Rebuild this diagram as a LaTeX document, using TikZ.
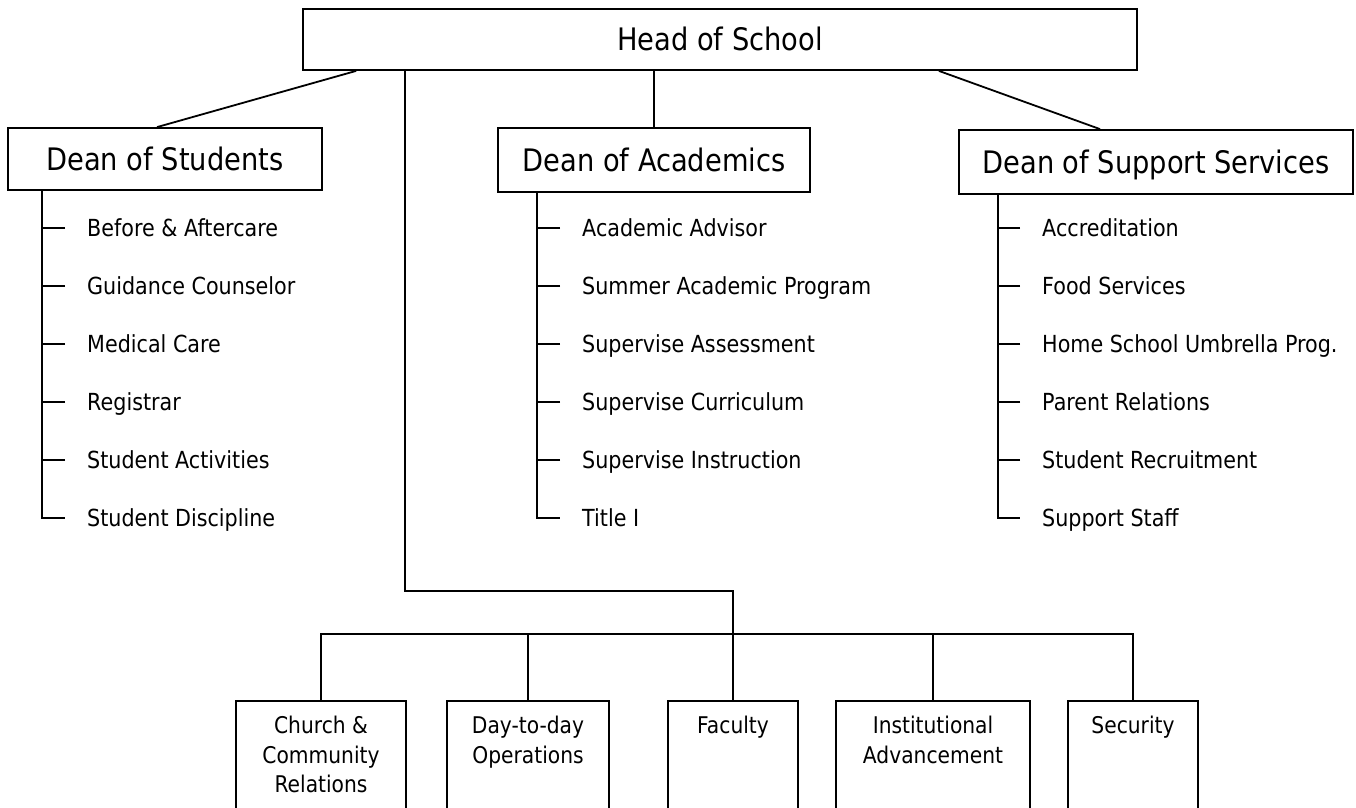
\documentclass[tikz,border=0pt]{standalone}
\usepackage{fontspec}
\setmainfont{DejaVu Sans}[FakeStretch=0.88]
\usepackage{tikz}
\usetikzlibrary{calc,positioning}
\tikzset{
    x=1pt,y=-1pt,
    link/.style = {line width=1.8pt},
    head/.style ={rectangle, draw, line width=1.8pt, inner sep=0pt, text height=22pt, text depth=0pt, font=\fontsize{31}{37}\selectfont},
    item/.style = {anchor=west, inner xsep=22pt, inner ysep=0pt, text height=17pt, text depth=0pt, font=\fontsize{23.5}{28}\selectfont},
    unit/.style = {rectangle, draw, line width=1.8pt, anchor=north, minimum height=130pt},
    tag/.style = {align=center, inner sep=0pt, font=\fontsize{23}{29.5}\selectfont}
}

\begin{document}
\begin{tikzpicture}
    \useasboundingbox (0,0) rectangle (1356,807);
    \clip (0,0) rectangle (1356,807);

    % top level
    \node[head, minimum width=834pt, minimum height=61pt] (hos) at (720,39.5) {Head of School};
    \node[head, minimum width=314pt, minimum height=62pt] (dos) at (165,159) {Dean of Students};
    \node[head, minimum width=312pt, minimum height=64pt] (doa) at (654,160) {Dean of Academics};
    \node[head, minimum width=394pt, minimum height=64pt] (dss) at (1156,162) {Dean of Support Services};

    \draw[link] ([xshift=54pt]hos.south west) -- ([xshift=-8pt]dos.north);
    \draw[link] (hos.south -| doa.north) -- (doa.north);
    \draw[link] ([xshift=-199pt]hos.south east) -- ([xshift=-56pt]dss.north);

    % dean of students
    \coordinate (dos-s) at (42,190);
    \node[item] (dos1) at (65,228) {Before \& Aftercare};
    \node[item] (dos2) at (65,286) {Guidance Counselor};
    \node[item] (dos3) at (65,344) {Medical Care};
    \node[item] (dos4) at (65,402) {Registrar};
    \node[item] (dos5) at (65,460) {Student Activities};
    \node[item] (dos6) at (65,518) {Student Discipline};
    \draw[link] (dos-s) |- (dos6.west);
    \draw[link] (dos1.west) -- (dos1.west -| dos-s);
    \draw[link] (dos2.west) -- (dos2.west -| dos-s);
    \draw[link] (dos3.west) -- (dos3.west -| dos-s);
    \draw[link] (dos4.west) -- (dos4.west -| dos-s);
    \draw[link] (dos5.west) -- (dos5.west -| dos-s);

    % dean of academics
    \coordinate (doa-s) at (537,192);
    \node[item] (doa1) at (560,228) {Academic Advisor};
    \node[item] (doa2) at (560,286) {Summer Academic Program};
    \node[item] (doa3) at (560,344) {Supervise Assessment};
    \node[item] (doa4) at (560,402) {Supervise Curriculum};
    \node[item] (doa5) at (560,460) {Supervise Instruction};
    \node[item] (doa6) at (560,518) {Title I};
    \draw[link] (doa-s) |- (doa6.west);
    \draw[link] (doa1.west) -- (doa1.west -| doa-s);
    \draw[link] (doa2.west) -- (doa2.west -| doa-s);
    \draw[link] (doa3.west) -- (doa3.west -| doa-s);
    \draw[link] (doa4.west) -- (doa4.west -| doa-s);
    \draw[link] (doa5.west) -- (doa5.west -| doa-s);

    % dean of support services
    \coordinate (dss-s) at (998,194);
    \node[item] (dss1) at (1020,228) {Accreditation};
    \node[item] (dss2) at (1020,286) {Food Services};
    \node[item] (dss3) at (1020,344) {Home School Umbrella Prog.};
    \node[item] (dss4) at (1020,402) {Parent Relations};
    \node[item] (dss5) at (1020,460) {Student Recruitment};
    \node[item] (dss6) at (1020,518) {Support Staff};
    \draw[link] (dss-s) |- (dss6.west);
    \draw[link] (dss1.west) -- (dss1.west -| dss-s);
    \draw[link] (dss2.west) -- (dss2.west -| dss-s);
    \draw[link] (dss3.west) -- (dss3.west -| dss-s);
    \draw[link] (dss4.west) -- (dss4.west -| dss-s);
    \draw[link] (dss5.west) -- (dss5.west -| dss-s);

    % bottom row
    \node[unit, minimum width=170pt] (ccr) at (321,700) {};
    \node[unit, minimum width=162pt] (dtd) at (528,700) {};
    \node[unit, minimum width=130pt] (fac) at (733,700) {};
    \node[unit, minimum width=194pt] (ina) at (933,700) {};
    \node[unit, minimum width=130pt] (sec) at (1133,700) {};
    \node[tag, below=16pt of ccr.north] (ccr-t) {Church \&\\Community\\Relations};
    \node[tag, below=16pt of dtd.north] (dtd-t) {Day-to-day\\Operations};
    \node[tag, below=16pt of fac.north] (fac-t) {Faculty};
    \node[tag, below=16pt of ina.north] (ina-t) {Institutional\\Advancement};
    \node[tag, below=16pt of sec.north] (sec-t) {Security};

    \draw[link] ([xshift=103pt]hos.south west) |- ($(fac.north)+(0,-109)$) -- (fac.north);
    \draw[link] (ccr.north) -- ++(0,-66) -| (sec.north);
    \draw[link] (dtd.north) -- ++(0,-66);
    \draw[link] (ina.north) -- ++(0,-66);

\end{tikzpicture}
\end{document}
